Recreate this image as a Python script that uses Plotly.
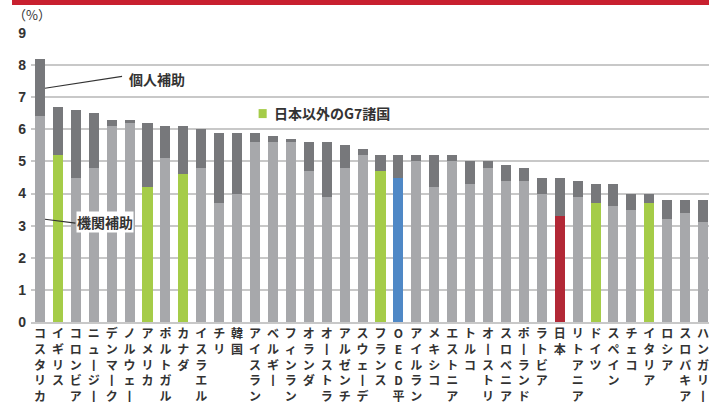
import plotly.graph_objects as go

countries = ["コスタリカ", "イギリス", "コロンビア", "ニュージーランド", "デンマーク", "ノルウェー",
             "アメリカ", "ポルトガル", "カナダ", "イスラエル", "チリ", "韓国", "アイスランド",
             "ベルギー", "フィンランド", "オランダ", "オーストラリア", "アルゼンチン", "スウェーデン",
             "フランス", "OECD平均", "アイルランド", "メキシコ", "エストニア", "トルコ", "オーストリア",
             "スロベニア", "ポーランド", "ラトビア", "日本", "リトアニア", "ドイツ", "スペイン",
             "チェコ", "イタリア", "ロシア", "スロバキア", "ハンガリー"]
total = [8.2, 6.7, 6.6, 6.5, 6.3, 6.3, 6.2, 6.1, 6.1, 6.0, 5.9, 5.9, 5.9, 5.8, 5.7, 5.6, 5.6, 5.5,
         5.4, 5.2, 5.2, 5.2, 5.2, 5.2, 5.0, 5.0, 4.9, 4.8, 4.5, 4.5, 4.4, 4.3, 4.3, 4.0, 4.0, 3.8,
         3.8, 3.8]
institutional = [6.4, 5.2, 4.5, 4.8, 6.1, 6.2, 4.2, 5.1, 4.6, 4.8, 3.7, 4.0, 5.6, 5.6, 5.6, 4.7,
                 3.9, 4.8, 5.2, 4.7, 4.5, 5.0, 4.2, 5.0, 4.3, 4.8, 4.4, 4.4, 4.0, 3.3, 3.9, 3.7,
                 3.6, 3.5, 3.7, 3.2, 3.4, 3.1]
personal = [round(t - i, 2) for t, i in zip(total, institutional)]
g7_other = ["イギリス", "アメリカ", "カナダ", "フランス", "ドイツ", "イタリア"]
yticks = [0, 1, 2, 3, 4, 5, 6, 7, 8, 9]

GREY_L = "#a7a8ab"
GREY_D = "#77787b"
GREEN = "#a5cc48"
BLUE = "#4f88c6"
RED = "#b22836"


def inst_color(c):
    if c in g7_other:
        return GREEN
    if c == "OECD平均":
        return BLUE
    if c == "日本":
        return RED
    return GREY_L


def vertical(name):
    chars = []
    for ch in name:
        if ch == "ー":
            ch = "丨"
        chars.append(ch)
    return "<br>".join(chars)


x = list(range(len(countries)))

fig = go.Figure()
fig.add_trace(go.Bar(x=x, y=institutional, marker=dict(color=[inst_color(c) for c in countries], line_width=0),
                     name="機関補助", hoverinfo="skip"))
fig.add_trace(go.Bar(x=x, y=personal, marker=dict(color=GREY_D, line_width=0), name="個人補助",
                     hoverinfo="skip"))

font = "Noto Sans CJK JP, Noto Sans, sans-serif"

fig.update_layout(
    barmode="stack",
    bargap=0.44,
    width=709, height=403,
    margin=dict(l=31, r=0, t=33, b=81, autoexpand=False),
    paper_bgcolor="white", plot_bgcolor="white",
    showlegend=False,
    font=dict(family=font, color="#333333"),
    xaxis=dict(
        range=[-0.5, 37.33],
        tickmode="array", tickvals=x, ticktext=[vertical(c) for c in countries],
        tickangle=0, automargin=False, ticklabeloverflow="allow",
        tickfont=dict(size=12, family=font, color="#333333", weight="bold"),
        showgrid=False, ticks="", showline=True, linecolor="#c8c8c8", linewidth=2,
        fixedrange=True,
    ),
    yaxis=dict(
        range=[0, 9], automargin=False,
        tickmode="array", tickvals=yticks,
        tickfont=dict(size=14, family="Liberation Sans, Arial, sans-serif", color="#333333", weight="bold"),
        showgrid=True, gridcolor="#c8c8c8", gridwidth=2,
        zeroline=False, ticks="", ticklabelstandoff=4,
        fixedrange=True,
    ),
)

# top red rule
fig.add_shape(type="rect", xref="paper", yref="paper", x0=-0.028, x1=1.0,
              y0=1 + (33 - 5) / 289.0, y1=1 + 33 / 289.0,
              line=dict(width=0), fillcolor="#c8202f", layer="above")

# unit label
fig.add_annotation(text="（%）", xref="paper", yref="paper", x=-0.03, y=1 + 18 / 289.0,
                   xanchor="left", yanchor="middle", showarrow=False,
                   font=dict(size=13, family=font, color="#333333"))

# callout lines
fig.add_shape(type="line", xref="x", yref="y", x0=0.28, y0=7.28, x1=4.58, y1=7.65,
              line=dict(color="#333333", width=1.2), layer="above")
fig.add_annotation(text="個人補助", xref="x", yref="y", x=4.85, y=7.56, xanchor="left",
                   yanchor="middle", showarrow=False,
                   font=dict(size=14, family=font, color="#333333", weight="bold"))
fig.add_annotation(text="機関補助", xref="x", yref="y", x=2.02, y=3.1, xanchor="left",
                   yanchor="middle", showarrow=False, bgcolor="white", borderpad=0,
                   font=dict(size=14, family=font, color="#333333", weight="bold"))
fig.add_shape(type="line", xref="x", yref="y", x0=0.28, y0=3.2, x1=1.98, y1=3.08,
              line=dict(color="#333333", width=1.2), layer="above")

# legend for G7
fig.add_shape(type="rect", xref="x", yref="y", x0=12.2, x1=12.65, y0=6.35, y1=6.63,
              line=dict(width=0), fillcolor=GREEN, layer="above")
fig.add_annotation(text="日本以外のG7諸国", xref="x", yref="y", x=12.95, y=6.5, xanchor="left",
                   yanchor="middle", showarrow=False,
                   font=dict(size=14, family=font, color="#333333", weight="bold"))

fig.write_html("out.html", config={"displayModeBar": False},
               post_script="document.body.style.margin='0';document.body.style.overflow='hidden';")
